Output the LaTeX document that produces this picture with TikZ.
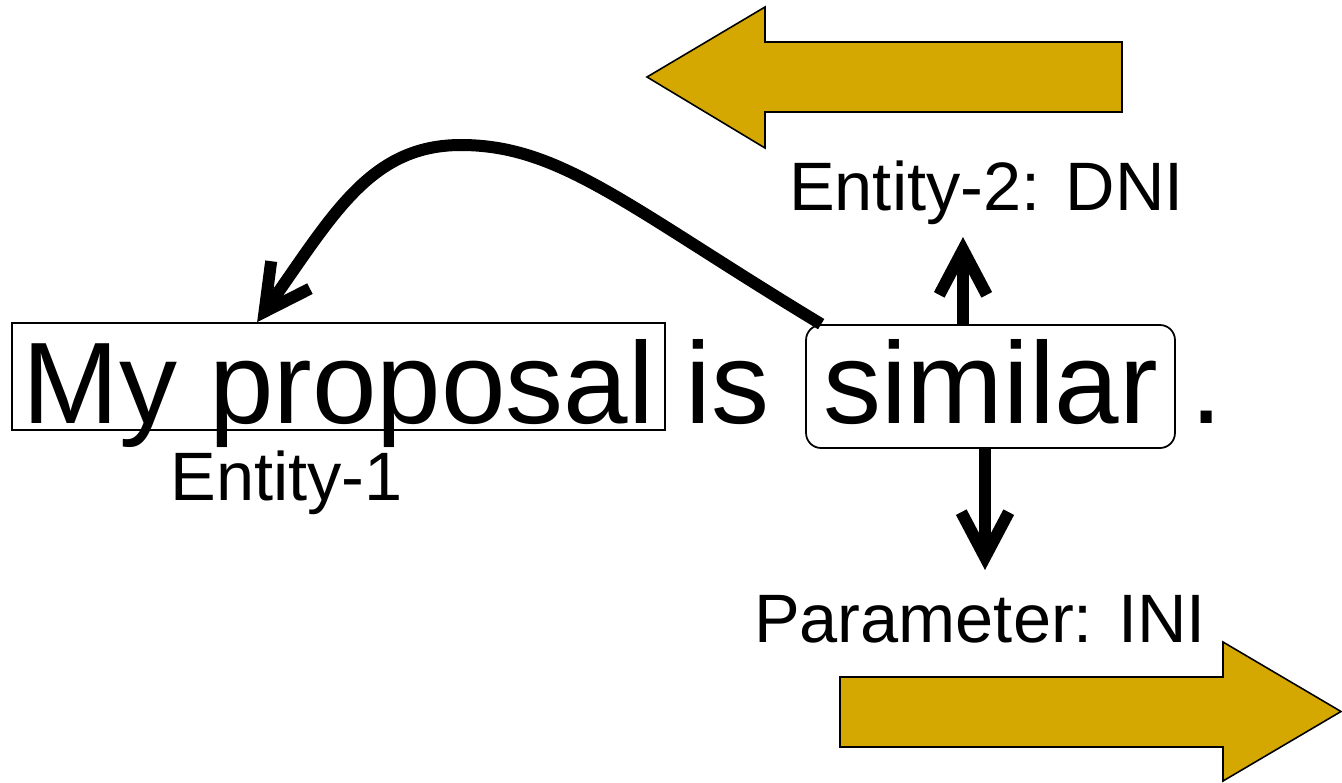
\documentclass[tikz,border=0pt]{standalone}
\usepackage{fontspec}
\setmainfont{Liberation Sans}
\usetikzlibrary{arrows.meta,positioning}
\definecolor{gold}{RGB}{212,168,0}
\tikzset{
	bigword/.style={
		font=\fontsize{66}{79}\selectfont
	},
	role/.style={
		font=\fontsize{39}{47}\selectfont,
		anchor=base,
		inner sep=0pt
	}
}

\begin{document}
\begin{tikzpicture}[x=0.02cm, y=-0.02cm]
		\tikzstyle{frame}=[draw=black, line width=1pt, inner sep=0pt]
		\tikzstyle{link}=[line width=0.24cm, -{Straight Barb[length=0.9cm, width=0.95cm]}]
		\tikzstyle{fat}=[draw=black, fill=gold, line width=0.9pt]
		\useasboundingbox (0,0) rectangle (1342,782);

		% the sentence
		\node[bigword, frame, minimum width=13.06cm, text height=2cm, text depth=0.14cm] (prop) at (338.5,376.5) {My proposal};
		\node[bigword, anchor=base west, inner sep=0pt] (is) at (685,423) {is};
		\node[bigword, frame, rounded corners=0.3cm, minimum width=7.38cm, text height=1.66cm, text depth=0.2cm, inner ysep=0.3cm] (sim) at (990.5,386.5) {similar};
		\node[bigword, anchor=base west, inner sep=0pt] (dot) at (1190,423) {.};

		% frame elements
		\node[role] (ent1) at (286.5,500) {Entity-1};
		\node[role] (ent2) at (986.5,210) {Entity-2: DNI};
		\node[role] (param) at (980,642) {Parameter: INI};

		\coordinate (up) at (963,237);
		\coordinate (down) at (985,570);
		\draw[link] (sim.north -| up) -- (up);
		\draw[link] (sim.south -| down) -- (down);
		\draw[link] ([xshift=0.32cm]sim.north west) .. controls (629,208) and (561,145) .. (461,145) .. controls (370,145) and (333,215) .. ([xshift=4.92cm]prop.north west);

		% big block arrows
		\filldraw[fat] (1122,42) -- (765,42) -- (765,7) -- (647,77) -- (765,148) -- (765,112) -- (1122,112) -- cycle;
		\filldraw[fat] (840,677) -- (1223,677) -- (1223,642) -- (1341,711.5) -- (1223,781) -- (1223,747) -- (840,747) -- cycle;
\end{tikzpicture}
\end{document}
